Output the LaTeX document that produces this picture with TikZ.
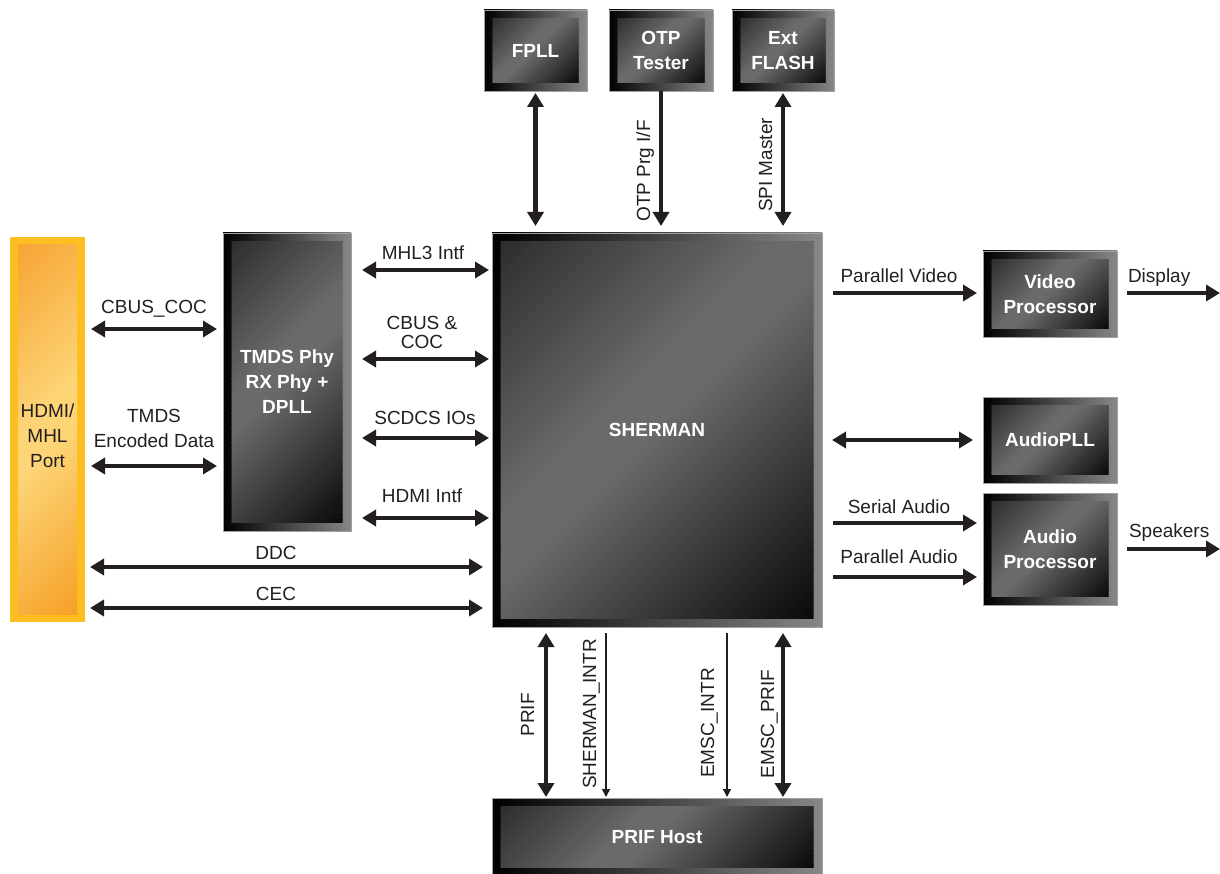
\documentclass[tikz,border=0pt]{standalone}
\usepackage{fontspec}
\setmainfont{Liberation Sans}
\usetikzlibrary{arrows.meta,calc}
\definecolor{ink}{RGB}{35,31,32}
\definecolor{framegray}{RGB}{135,135,135}
\definecolor{frameline}{RGB}{160,160,160}
\definecolor{intl}{RGB}{44,45,45}
\definecolor{inmid}{RGB}{106,106,106}
\definecolor{inbr}{RGB}{10,10,10}
\definecolor{portyel}{RGB}{253,190,32}
\definecolor{porttl}{RGB}{247,164,50}
\definecolor{portmid}{RGB}{253,212,118}
\definecolor{portbr}{RGB}{246,160,38}
% diagonal gradient: centre, width, height, top-left colour, middle colour, bottom-right colour, plateau start, plateau end
\newcommand\gradfill[8]{%
  \begin{scope}
    \clip ($(#1)+(-#2/2,-#3/2)$) rectangle ($(#1)+(#2/2,#3/2)$);
    \begin{scope}[shift={(#1)}, rotate=45]
      \pgfmathsetmacro\gT{(#2+#3)/(2*sqrt(2))+1}
      \foreach \i in {0,...,79} {
        \pgfmathsetmacro\gs{(\i+0.5)/80}
        \pgfmathsetmacro\bA{\gT*(2*(\i/80)-1)}
        \pgfmathsetmacro\bB{\gT*(2*((\i+1)/80)-1)+0.8}
        \pgfmathtruncatemacro\gp{100*min(\gs/#7,1,(1-\gs)/(1-#8))}
        \ifdim\gs pt<#7pt \def\goc{#4}\else\def\goc{#6}\fi
        \fill[#5!\gp!\goc] (-\gT-2,\bA) -- (\gT+2,\bA) -- (\gT+2,\bB) -- (-\gT-2,\bB) -- cycle;
      }
    \end{scope}
  \end{scope}
}
\newcommand\gbox[6]{%
  \node[outerbox, minimum width={#4-#2}, minimum height={#5-#3}] (#1) at ({(#2+#4)/2},{(#3+#5)/2}) {};
  \pgfmathsetmacro\gw{#4-#2-17}\pgfmathsetmacro\gh{#5-#3-17}
  \gradfill{#1.center}{\gw}{\gh}{intl}{inmid}{inbr}{0.40}{0.50}
  \node[boxtext] (#1-in) at (#1.center) {#6};
}
\begin{document}
\begin{tikzpicture}[x=1pt,y=-1pt,
  every node/.style={font=\fontsize{19}{25}\selectfont, inner sep=0pt, outer sep=0pt},
  outerbox/.style={draw=frameline, line width=0.6pt, left color=black, right color=framegray},
  boxtext/.style={text=white, align=center, font=\fontsize{19}{25}\selectfont\bfseries},
  lab/.style={text=ink, anchor=base},
  vlab/.style={text=ink, anchor=base, rotate=90},
  dbl/.style={draw=ink, line width=4.5pt, {Triangle[length=14pt,width=16pt]}-{Triangle[length=14pt,width=16pt]}},
  sgl/.style={draw=ink, line width=4.5pt, -{Triangle[length=14pt,width=16pt]}},
  thin/.style={draw=ink, line width=1.5pt, -{Triangle[length=8pt,width=8pt]}},
]
\useasboundingbox (0,0) rectangle (1220,874);

% HDMI port
\node[fill=portyel, minimum width=75, minimum height=385] (port) at (47.5,429.5) {};
\gradfill{port.center}{59}{369}{porttl}{portmid}{portbr}{0.44}{0.56}
\node[align=center, text=ink] (port-text) at ($(port.center)+(0,6)$) {HDMI/\\MHL\\Port};

% boxes
\gbox{fpll}{484}{10}{587}{91}{FPLL}
\gbox{otp}{609}{10}{713}{91}{OTP\\Tester}
\gbox{flash}{732}{10}{834}{91}{Ext\\FLASH}
\gbox{tmds}{223}{233}{351}{531}{TMDS Phy\\RX Phy +\\DPLL}
\gbox{sherman}{492}{233}{822}{627}{SHERMAN}
\gbox{video}{983}{251}{1117}{337}{Video\\Processor}
\gbox{apll}{983}{397}{1117}{483}{AudioPLL}
\gbox{audio}{983}{493}{1117}{605}{Audio\\Processor}
\gbox{host}{492}{798}{822}{876}{PRIF Host}

\coordinate (dispend) at (1220,293);
\coordinate (spkend) at (1220,549);

% left connectors
\draw[dbl] ($(port.east |- 0,329)+(6,0)$) -- ($(tmds.west |- 0,329)+(-6,0)$);
\draw[dbl] ($(port.east |- 0,466)+(6,0)$) -- ($(tmds.west |- 0,466)+(-6,0)$);
\draw[dbl] ($(tmds.east |- 0,270)+(11,0)$) -- ($(sherman.west |- 0,270)+(-3,0)$);
\draw[dbl] ($(tmds.east |- 0,359)+(11,0)$) -- ($(sherman.west |- 0,359)+(-3,0)$);
\draw[dbl] ($(tmds.east |- 0,438)+(11,0)$) -- ($(sherman.west |- 0,438)+(-3,0)$);
\draw[dbl] ($(tmds.east |- 0,518)+(11,0)$) -- ($(sherman.west |- 0,518)+(-3,0)$);
\draw[dbl] ($(port.east |- 0,567)+(5,0)$) -- ($(sherman.west |- 0,567)+(-9,0)$);
\draw[dbl] ($(port.east |- 0,608)+(5,0)$) -- ($(sherman.west |- 0,608)+(-9,0)$);

% top connectors
\draw[dbl] ($(fpll.south)+(0,2)$) -- ($(fpll.south |- sherman.north)+(0,-7)$);
\draw[sgl] (otp.south) -- ($(otp.south |- sherman.north)+(0,-7)$);
\draw[dbl] ($(flash.south)+(0,2)$) -- ($(flash.south |- sherman.north)+(0,-7)$);

% bottom connectors
\draw[dbl] ($(546,0 |- sherman.south)+(0,6)$) -- ($(546,0 |- host.north)+(0,-1)$);
\draw[thin] ($(606,0 |- sherman.south)+(0,6)$) -- ($(606,0 |- host.north)+(0,-1)$);
\draw[thin] ($(727,0 |- sherman.south)+(0,6)$) -- ($(727,0 |- host.north)+(0,-1)$);
\draw[dbl] ($(783,0 |- sherman.south)+(0,6)$) -- ($(783,0 |- host.north)+(0,-1)$);

% right connectors
\draw[sgl] ($(sherman.east |- 0,293)+(11,0)$) -- ($(video.west |- 0,293)+(-6,0)$);
\draw[sgl] ($(video.east |- dispend)+(10,0)$) -- (dispend);
\draw[dbl] ($(sherman.east |- 0,440)+(10,0)$) -- ($(apll.west |- 0,440)+(-10,0)$);
\draw[sgl] ($(sherman.east |- 0,523)+(11,0)$) -- ($(audio.west |- 0,523)+(-6,0)$);
\draw[sgl] ($(sherman.east |- 0,577)+(11,0)$) -- ($(audio.west |- 0,577)+(-6,0)$);
\draw[sgl] ($(audio.east |- spkend)+(10,0)$) -- (spkend);

% labels
\node[lab] (l-cbus) at (154,314) {CBUS\_COC};
\node[text=ink, align=center, anchor=south] (l-tmds) at (154,448) {TMDS\\Encoded Data};
\node[lab] (l-mhl) at (423,260) {MHL3 Intf};
\node[text=ink, align=center, anchor=south, font=\fontsize{19}{19}\selectfont] (l-cbuscoc) at (422,349) {CBUS \&\\COC};
\node[lab] (l-scdcs) at (425,424) {SCDCS IOs};
\node[lab] (l-hdmi) at (422,502) {HDMI Intf};
\node[lab] (l-ddc) at (276,559) {DDC};
\node[lab] (l-cec) at (276,600) {CEC};
\node[lab] (l-pv) at (899,283) {Parallel Video};
\node[lab, anchor=base west] (l-disp) at (1128,283) {Display};
\node[lab] (l-sa) at (899,513) {Serial Audio};
\node[lab] (l-pa) at (899,563) {Parallel Audio};
\node[lab, anchor=base west] (l-spk) at (1129,537) {Speakers};

\node[vlab] (l-otp) at (650,171) {OTP Prg I/F};
\node[vlab] (l-spi) at (772,165) {SPI Master};
\node[vlab] (l-prif) at (534,715) {PRIF};
\node[vlab] (l-sint) at (596,714) {SHERMAN\_INTR};
\node[vlab] (l-eint) at (714,723) {EMSC\_INTR};
\node[vlab] (l-eprif) at (774,724) {EMSC\_PRIF};
\end{tikzpicture}
\end{document}
